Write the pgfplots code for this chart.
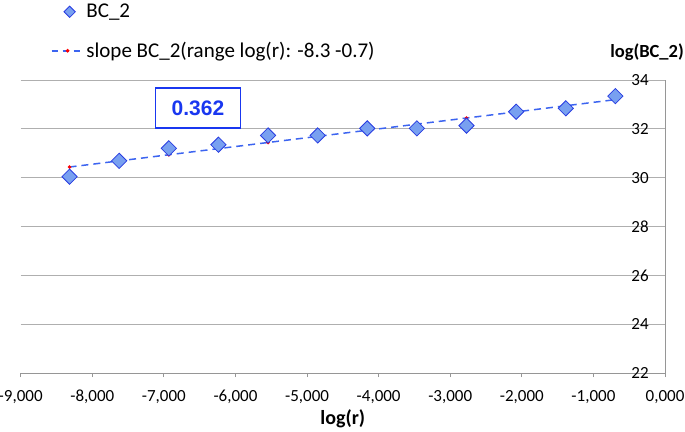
\documentclass[border=0pt]{standalone}
\usepackage{fontspec}
\setmainfont{Carlito}
\newfontfamily\arialfont{Liberation Sans}
\usepackage{pgfplots}
\pgfplotsset{compat=1.18}
\definecolor{lineblue}{RGB}{60,100,240}
\definecolor{dfill}{RGB}{120,160,240}
\definecolor{dedge}{RGB}{40,60,225}
\definecolor{boxblue}{RGB}{25,55,240}
\definecolor{gridc}{RGB}{175,175,175}
\definecolor{axc}{RGB}{150,150,150}
\begin{document}
\begin{tikzpicture}
\path[use as bounding box] (-20.7pt,-58pt) rectangle (664.3pt,373pt);
\begin{axis}[
  at={(0,0)}, anchor=south west,
  scale only axis, width=644.3pt, height=293pt,
  xmin=-9, xmax=0, ymin=22, ymax=34,
  axis x line*=bottom, axis y line*=right,
  axis line style={draw=axc, line width=0.8pt},
  xtick={-9,-8,-7,-6,-5,-4,-3,-2,-1,0},
  xticklabels={{-9,000},{-8,000},{-7,000},{-6,000},{-5,000},{-4,000},{-3,000},{-2,000},{-1,000},{0,000}},
  ytick={22,24,26,28,30,32,34},
  yticklabels={22,24,26,28,30,32,34},
  ymajorgrids, grid style={draw=gridc, line width=0.8pt},
  x tick style={draw=axc, line width=0.8pt},
  tick align=outside, major tick length=4pt,
  y tick style={draw=none},
  xticklabel style={anchor=center, yshift=-20pt, font=\fontsize{17}{20}\selectfont},
  yticklabel style={anchor=center, xshift=-29pt, font=\fontsize{17}{20}\selectfont},
  legend style={at={(axis description cs:0,1)}, anchor=north west, xshift=30pt, yshift=78pt,
    draw=none, fill=none, font=\fontsize{21}{25}\selectfont, row sep=19pt, cells={anchor=west}, inner sep=0pt},
  clip=false,
]
\addlegendimage{legend image code/.code={\draw[only marks, mark=square*, mark size=4pt, mark options={rotate=45, fill=dfill, draw=dedge, line width=0.8pt}] plot coordinates {(18pt,0pt)};}}
\addlegendentry{BC\_2}
\addlegendimage{legend image code/.code={\draw[lineblue, line width=1.5pt, dash pattern=on 6pt off 5pt, mark=*, mark repeat=2, mark phase=2, mark size=1pt, mark options={solid, fill=red, draw=red}] plot coordinates {(0pt,0pt)(16pt,0pt)(32pt,0pt)};}}
\addlegendentry{slope BC\_2(range log(r): -8.3 -0.7)}

\addplot[forget plot, lineblue, line width=1.5pt, dash pattern=on 7pt off 5pt, mark=*, mark size=0.9pt, mark options={solid, fill=red, draw=red}] coordinates {
(-8.318,30.436) (-7.625,30.687) (-6.931,30.938) (-6.238,31.189) (-5.545,31.440) (-4.852,31.691)
(-4.159,31.941) (-3.466,32.192) (-2.773,32.443) (-2.079,32.694) (-1.386,32.945) (-0.693,33.196)};

\addplot[forget plot, only marks, mark=square*, mark size=5.4pt, mark options={rotate=45, fill=dfill, draw=dedge, line width=0.8pt}] coordinates {
(-8.318,30.04) (-7.625,30.69) (-6.931,31.20) (-6.238,31.35) (-5.545,31.73) (-4.852,31.73)
(-4.159,32.02) (-3.466,32.02) (-2.773,32.13) (-2.079,32.70) (-1.386,32.84) (-0.693,33.34)};

\node[draw=boxblue, line width=1.5pt, minimum width=85pt, minimum height=40pt, text=boxblue,
  font=\arialfont\bfseries\fontsize{21}{24}\selectfont, inner sep=0pt] at (axis cs:-6.524,32.85) {0.362};
\node[font=\bfseries\fontsize{18.5}{22}\selectfont, anchor=east, inner sep=0pt] at (axis description cs:1,1) [xshift=19pt, yshift=28pt] {log(BC\_2)};
\node[font=\bfseries\fontsize{20}{24}\selectfont, inner sep=0pt] at (axis description cs:0.5,0) [yshift=-46pt] {log(r)};
\end{axis}
\end{tikzpicture}
\end{document}
